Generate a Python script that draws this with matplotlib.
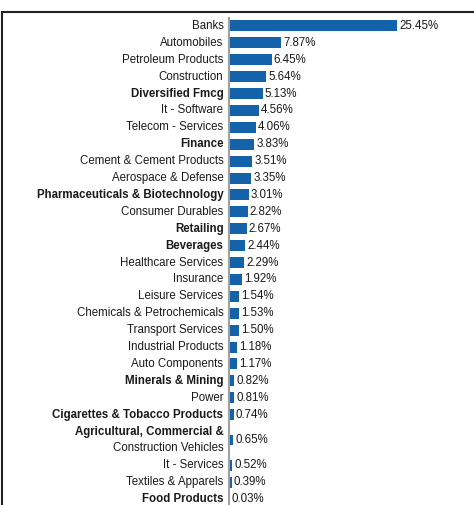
import matplotlib
matplotlib.use("Agg")
import matplotlib.pyplot as plt
from matplotlib.lines import Line2D

sectors = [
    "Banks", "Automobiles", "Petroleum Products", "Construction", "Diversified Fmcg",
    "It - Software", "Telecom - Services", "Finance", "Cement & Cement Products",
    "Aerospace & Defense", "Pharmaceuticals & Biotechnology", "Consumer Durables",
    "Retailing", "Beverages", "Healthcare Services", "Insurance", "Leisure Services",
    "Chemicals & Petrochemicals", "Transport Services", "Industrial Products",
    "Auto Components", "Minerals & Mining", "Power", "Cigarettes & Tobacco Products",
    "Agricultural, Commercial &\nConstruction Vehicles", "It - Services",
    "Textiles & Apparels", "Food Products",
]
weights = [
    25.45, 7.87, 6.45, 5.64, 5.13, 4.56, 4.06, 3.83, 3.51, 3.35, 3.01, 2.82,
    2.67, 2.44, 2.29, 1.92, 1.54, 1.53, 1.50, 1.18, 1.17, 0.82, 0.81, 0.74,
    0.65, 0.52, 0.39, 0.03,
]
bold_labels = {
    "Diversified Fmcg", "Finance", "Pharmaceuticals & Biotechnology", "Retailing",
    "Beverages", "Minerals & Mining", "Cigarettes & Tobacco Products",
    "Agricultural, Commercial &", "Food Products",
}

FONT = ["Liberation Sans", "DejaVu Sans"]
BAR = "#1362aa"
TXT = "#1a1a1a"
FS = 8.3

W, H = 474, 505
fig = plt.figure(figsize=(W / 100, H / 100), dpi=100)

# row layout: wrapped labels take a taller row
row_h = [2.0 if "\n" in s else 1.0 for s in sectors]
centers = []
acc = 0.0
for h in row_h:
    centers.append(acc + h / 2)
    acc += h

unit = 16.9
top_px = 17.5
ax_left = 229
ax = fig.add_axes([ax_left / W, 0, (W - ax_left) / W, (H - top_px) / H])
px_per_pct = 168 / 25.45
ax.set_xlim(0, (W - ax_left) / px_per_pct)
ax.set_ylim((H - top_px) / unit, 0)

ax.barh(centers, weights, height=0.65, color=BAR, zorder=2)

for y, v in zip(centers, weights):
    ax.annotate(f"{v:.2f}%", (v, y), xytext=(1.5, 0), textcoords="offset points",
                ha="left", va="center", fontsize=FS, color=TXT, family=FONT)

line_gap = 11.5  # points between the lines of a wrapped label
for y, s in zip(centers, sectors):
    lines = s.split("\n")
    n = len(lines)
    for k, line in enumerate(lines):
        dy = -(k - (n - 1) / 2) * line_gap
        ax.annotate(line, (0, y), xytext=(-4, dy), textcoords="offset points",
                    ha="right", va="center", fontsize=FS, color=TXT, family=FONT,
                    fontweight="bold" if line in bold_labels else "normal",
                    annotation_clip=False)

for sp in ["top", "right", "bottom"]:
    ax.spines[sp].set_visible(False)
ax.spines["left"].set_color("#a0a0a0")
ax.spines["left"].set_linewidth(1.5)
ax.set_xticks([])
ax.set_yticks([])
ax.patch.set_alpha(0)

# outer frame: top and left edges
fig.add_artist(Line2D([2 / W, 1], [1 - 11.5 / H, 1 - 11.5 / H], color="#222222", lw=1.5,
                      transform=fig.transFigure))
fig.add_artist(Line2D([2 / W, 2 / W], [0, 1 - 11.5 / H], color="#222222", lw=1.5,
                      transform=fig.transFigure))

fig.savefig("out.png", dpi=100)
